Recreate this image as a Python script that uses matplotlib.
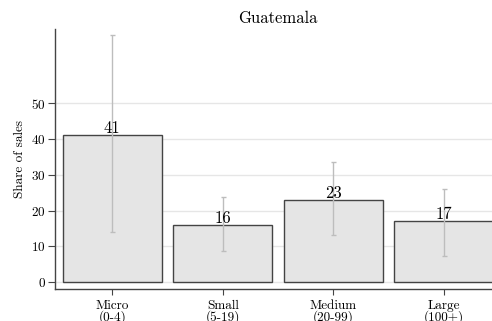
import matplotlib.pyplot as plt
import numpy as np

plt.rcParams['font.family'] = 'serif'
plt.rcParams['font.serif'] = ['cmr10']
plt.rcParams['axes.formatter.use_mathtext'] = True

categories = ["Micro\n(0-4)", "Small\n(5-19)", "Medium\n(20-99)", "Large\n(100+)"]
shares = [41, 16, 23, 17]
ci_low = [13.9, 8.8, 13.3, 7.2]
ci_high = [69.0, 23.9, 33.7, 26.0]

x = np.arange(len(categories))
shares_arr = np.array(shares)
yerr = [shares_arr - np.array(ci_low), np.array(ci_high) - shares_arr]

fig = plt.figure(figsize=(4.92, 3.21), dpi=100)
# axes runs a little past the right edge of the figure
ax = fig.add_axes([55 / 492, 32 / 321, 446 / 492, 260 / 321])

ax.bar(x, shares, width=0.895, color='#e5e5e5', edgecolor='#444444',
       linewidth=1.0, zorder=2)
ax.errorbar(x, shares, yerr=yerr, fmt='none', ecolor='#bdbdbd',
            elinewidth=1.0, capsize=1.8, capthick=1.0, zorder=3)
for xi, v in zip(x, shares):
    ax.text(xi, v - 0.3, str(v), ha='center', va='bottom', fontsize=12, zorder=4)

ax.set_xlim(-0.517, 3.517)
ax.set_ylim(-1.9, 70.7)
ax.set_yticks([0, 10, 20, 30, 40, 50])
ax.set_xticks(x)
ax.set_xticklabels(categories, fontsize=9.5, linespacing=0.85)
ax.tick_params(axis='y', labelsize=9.5, length=5, pad=1.5, color='#444444')
ax.tick_params(axis='x', length=4, color='#444444', pad=4)
ax.yaxis.grid(True, color='#e6e6e6', linewidth=1.0, zorder=0)
ax.set_axisbelow(True)

for s in ['top', 'right']:
    ax.spines[s].set_visible(False)
for s in ['left', 'bottom']:
    ax.spines[s].set_color('#444444')
    ax.spines[s].set_linewidth(1.0)

ax.set_ylabel('Share of sales', fontsize=9.5, labelpad=4)
ax.set_title('Guatemala', fontsize=12, pad=4)

fig.savefig('out.png', dpi=100)
